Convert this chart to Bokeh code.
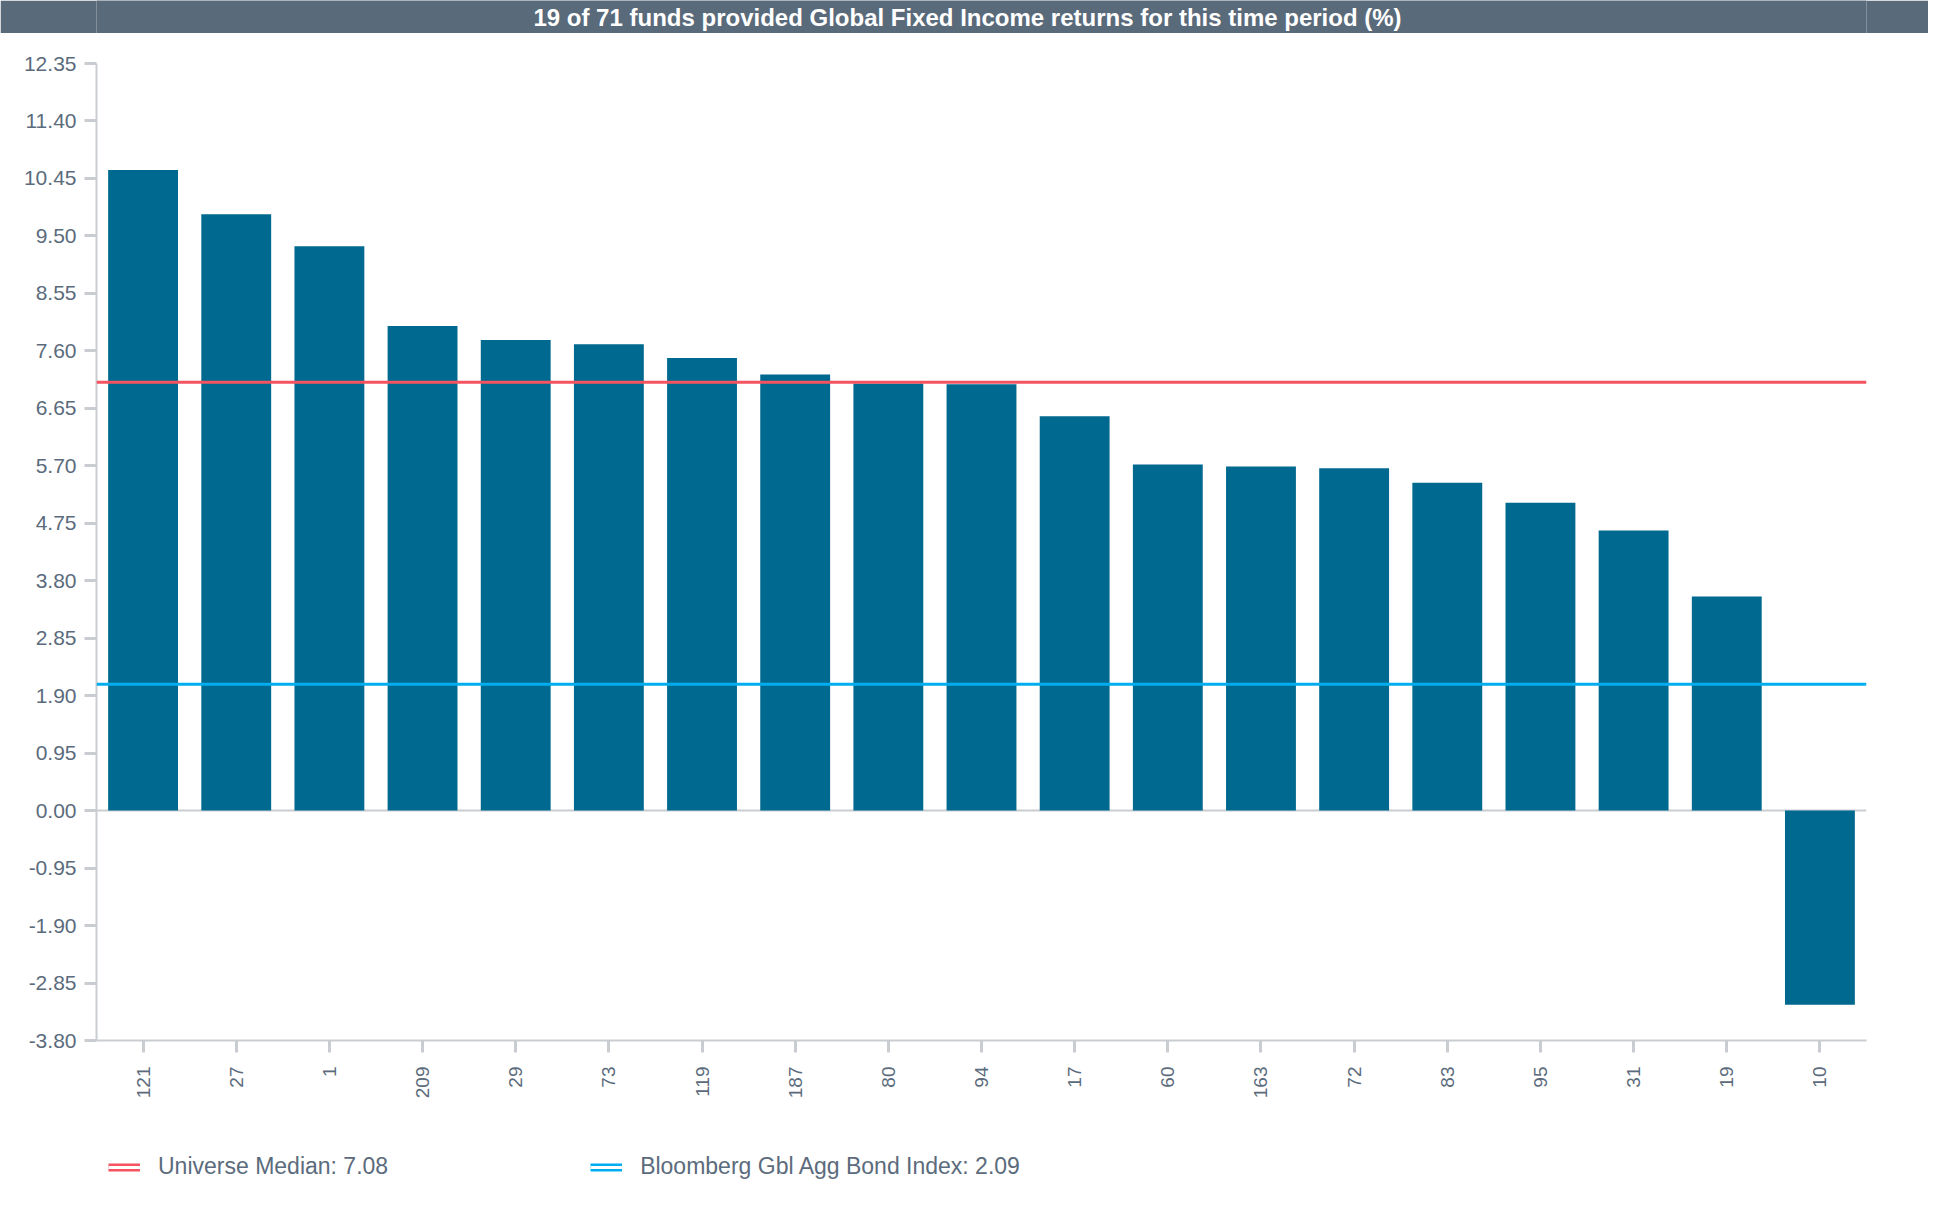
import math
from bokeh.plotting import figure
from bokeh.models import (Range1d, FixedTicker, PrintfTickFormatter, Span, Legend,
                          LegendItem, Label, ColumnDataSource)
from bokeh.layouts import column
from bokeh.embed import file_html
from bokeh.resources import INLINE

# ---- data ----
funds = ["121", "27", "1", "209", "29", "73", "119", "187", "80", "94",
         "17", "60", "163", "72", "83", "95", "31", "19", "10"]
returns = [10.59, 9.86, 9.33, 8.01, 7.78, 7.71, 7.48, 7.21, 7.06, 7.05,
           6.52, 5.72, 5.69, 5.66, 5.42, 5.09, 4.63, 3.54, -3.21]
universe_median = 7.08
index_return = 2.09
index_name = "Bloomberg Gbl Agg Bond Index"
y_ticks = [-3.80, -2.85, -1.90, -0.95, 0.00, 0.95, 1.90, 2.85, 3.80, 4.75,
           5.70, 6.65, 7.60, 8.55, 9.50, 10.45, 11.40, 12.35]
title_text = "19 of 71 funds provided Global Fixed Income returns for this time period (%)"

FONT = "Liberation Sans"
TXT = "#5b6b7c"
GRAY = "#c9cdd2"
BAR = "#00698f"
RED = "#f4535f"
BLUE = "#00aeef"
SLATE = "#596a7a"
W = 1928


def bare(fig, fill):
    fig.background_fill_color = fill
    fig.border_fill_color = fill
    fig.outline_line_color = None
    fig.grid.visible = False


# ---- title bar ----
tf = figure(width=W, height=33, x_range=Range1d(0, 1), y_range=Range1d(0, 1),
            x_axis_type=None, y_axis_type=None, toolbar_location=None,
            output_backend="svg", min_border=0)
bare(tf, SLATE)
tf.add_layout(Label(x=0.5, y=0.5, x_offset=-14, text=title_text, text_align="center",
                    text_baseline="middle", text_color="white",
                    text_font=FONT, text_font_style="bold",
                    text_font_size="24px"))

# ---- main chart ----
p = figure(width=W, height=1087, x_range=funds, y_range=Range1d(-3.8, 12.35),
           toolbar_location=None, output_backend="svg",
           min_border_left=96, min_border_right=62, min_border_top=30,
           min_border_bottom=80)
bare(p, "white")

src = ColumnDataSource(dict(fund=funds, ret=returns))
p.vbar(x="fund", top="ret", bottom=0, width=0.75, source=src,
       fill_color=BAR, line_color=None)

p.add_layout(Span(location=0, dimension="width", line_color=GRAY, line_width=2,
                  level="underlay"))
p.add_layout(Span(location=universe_median, dimension="width", line_color=RED,
                  line_width=3))
p.add_layout(Span(location=index_return, dimension="width", line_color=BLUE,
                  line_width=3))

ya = p.yaxis[0]
ya.ticker = FixedTicker(ticks=y_ticks)
ya.formatter = PrintfTickFormatter(format="%.2f")
ya.minor_tick_line_color = None
ya.major_tick_in = 0
ya.major_tick_out = 12
ya.major_tick_line_color = GRAY
ya.major_tick_line_width = 3
ya.axis_line_color = GRAY
ya.axis_line_width = 2
ya.major_label_standoff = 8
ya.major_label_text_font = FONT
ya.major_label_text_font_size = "21px"
ya.major_label_text_color = TXT

xa = p.xaxis[0]
xa.major_tick_in = 0
xa.major_tick_out = 12
xa.major_tick_line_color = GRAY
xa.major_tick_line_width = 3
xa.axis_line_color = GRAY
xa.axis_line_width = 2
xa.major_label_orientation = math.pi / 2
xa.major_label_standoff = 14
xa.major_label_text_font = FONT
xa.major_label_text_font_size = "19px"
xa.major_label_text_color = TXT

# ---- legend strip ----
lf = figure(width=W, height=80, x_range=Range1d(0, 1), y_range=Range1d(0, 1),
            x_axis_type=None, y_axis_type=None, toolbar_location=None,
            output_backend="svg", min_border=0)
bare(lf, "white")
# reference-line swatches (values lie outside this strip's range, so only the legend shows them)
r1 = lf.line(x=[0, 1], y=[universe_median] * 2, line_color=RED, line_width=8)
r1w = lf.line(x=[0, 1], y=[universe_median] * 2, line_color="white", line_width=3)
r2 = lf.line(x=[0, 1], y=[index_return] * 2, line_color=BLUE, line_width=8)
r2w = lf.line(x=[0, 1], y=[index_return] * 2, line_color="white", line_width=3)
legend = Legend(items=[
    LegendItem(label=f"Universe Median: {universe_median:.2f}", renderers=[r1, r1w]),
    LegendItem(label=f"{index_name}: {index_return:.2f}", renderers=[r2, r2w]),
], orientation="horizontal", location=(12, 20), padding=0, margin=0,
    spacing=202, label_standoff=18, glyph_width=32, glyph_height=10,
    label_text_font=FONT, label_text_font_size="23px", label_text_color=TXT,
    border_line_color=None, background_fill_alpha=0)
lf.add_layout(legend)

layout = column(tf, p, lf, spacing=0)
open("out.html", "w").write(file_html(layout, INLINE))
